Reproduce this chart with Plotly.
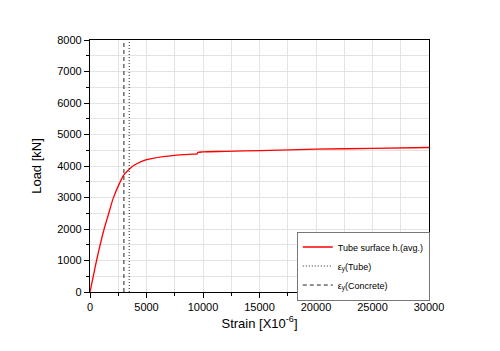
import plotly.graph_objects as go

strain = [0, 290, 580, 900, 1250, 1660, 2060, 2650, 3000, 3470, 3970, 5000, 6470, 7500, 9000, 9480,
          9530, 10000, 12000, 15000, 20000, 25000, 30000]
load = [0, 500, 1000, 1500, 2000, 2500, 2980, 3480, 3720, 3900, 4040, 4200, 4300, 4340, 4375, 4385,
        4430, 4447, 4465, 4490, 4533, 4560, 4588]

eps_tube = 3470
eps_concrete = 3000
y_range = [0, 8000]

fig = go.Figure()
fig.add_trace(go.Scatter(x=strain, y=load, mode="lines",
                         line=dict(color="#ff0000", width=1.3, shape="spline", smoothing=0.8),
                         name="Tube surface h.(avg.)"))
fig.add_trace(go.Scatter(x=[eps_tube, eps_tube], y=y_range, mode="lines",
                         line=dict(color="#222222", width=1, dash="1px,2px"), name="ε<sub>y</sub>(Tube)"))
fig.add_trace(go.Scatter(x=[eps_concrete, eps_concrete], y=y_range, mode="lines",
                         line=dict(color="#222222", width=1, dash="4px,3px"), name="ε<sub>y</sub>(Concrete)"))

axis_common = dict(showline=True, linecolor="black", linewidth=1.3, mirror=True,
                   ticks="outside", tickcolor="black", ticklen=5, tickwidth=1,
                   showgrid=True, gridcolor="#e3e3e3", gridwidth=1, zeroline=False,
                   tickfont=dict(family="Liberation Sans, Arial", size=11, color="black"))

fig.update_xaxes(range=[0, 30000], dtick=5000, tickformat="d",
                 minor=dict(dtick=2500, ticks="outside", ticklen=3, tickcolor="black", showgrid=True, gridcolor="#e3e3e3"),
                 title=dict(text="Strain [X10<sup>-6</sup>]", font=dict(family="Liberation Sans, Arial", size=13, color="black"), standoff=6),
                 **axis_common)
fig.update_yaxes(range=y_range, dtick=1000, tickformat="d",
                 minor=dict(dtick=500, ticks="outside", ticklen=3, tickcolor="black", showgrid=True, gridcolor="#e3e3e3"),
                 title=dict(text="Load [kN]", font=dict(family="Liberation Sans, Arial", size=13, color="black"), standoff=12),
                 **axis_common)

fig.update_layout(
    width=500, height=351,
    margin=dict(l=90, r=71, t=40, b=59),
    paper_bgcolor="white", plot_bgcolor="white",
    showlegend=True,
    legend=dict(x=0.61, y=0.24, xanchor="left", yanchor="top",
                bgcolor="white", bordercolor="#777777", borderwidth=1,
                font=dict(family="Liberation Sans, Arial", size=9, color="black"),
                tracegroupgap=0, itemwidth=30),
)

fig.write_html("out.html")
